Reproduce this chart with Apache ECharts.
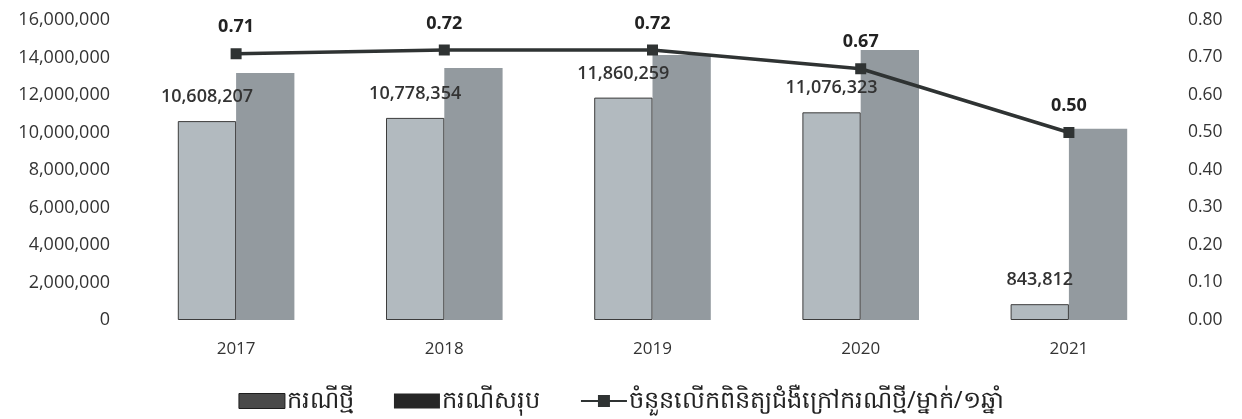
<!DOCTYPE html>
<html>
<head>
<meta charset="utf-8">
<script src="https://cdn.jsdelivr.net/npm/echarts@6/dist/echarts.min.js"></script>
<style>
html,body{margin:0;padding:0;background:#fff;}
#chart{width:1242px;height:419px;}
</style>
</head>
<body>
<div id="chart"></div>
<script>
const years = ['2017', '2018', '2019', '2020', '2021'];
const newCases = [10608207, 10778354, 11860259, 11076323, 843812];
const totalCases = [13170000, 13440000, 14130000, 14400000, 10200000];
const visitsPerPerson = [0.71, 0.72, 0.72, 0.67, 0.50];
const seriesNames = ['ករណីថ្មី', 'ករណីសរុប', 'ចំនួនលើកពិនិត្យជំងឺក្រៅករណីថ្មី/ម្នាក់/១ឆ្នាំ'];

const font = '"Open Sans", Lato, sans-serif';
const chart = echarts.init(document.getElementById('chart'));
chart.setOption({
  backgroundColor: '#fff',
  animation: false,
  textStyle: { fontFamily: font },
  grid: { left: 132, right: 69, top: 20, bottom: 99 },
  legend: {
    bottom: 1,
    left: 'center',
    itemGap: 40,
    itemWidth: 46,
    itemHeight: 15,
    textStyle: { fontSize: 24, color: '#222', padding: [0, 0, 0, -3] },
    data: [
      { name: seriesNames[0], icon: 'rect', itemStyle: { color: '#4a4a4a', borderColor: '#1e1e1e', borderWidth: 1 } },
      { name: seriesNames[1], icon: 'rect', itemStyle: { color: '#262626' } },
      { name: seriesNames[2] }
    ]
  },
  xAxis: {
    type: 'category',
    data: years,
    axisLine: { show: false },
    axisTick: { show: false },
    axisLabel: { fontSize: 17, color: '#333', margin: 21, fontFamily: font }
  },
  yAxis: [
    {
      type: 'value', min: 0, max: 16000000, interval: 2000000,
      splitLine: { show: false },
      axisLine: { show: false }, axisTick: { show: false },
      axisLabel: {
        fontSize: 18, color: '#333', margin: 22, fontFamily: font,
        formatter: v => v.toLocaleString('en-US')
      }
    },
    {
      type: 'value', min: 0, max: 0.8, interval: 0.1,
      splitLine: { show: false },
      axisLine: { show: false }, axisTick: { show: false },
      axisLabel: {
        fontSize: 17.5, color: '#333', margin: 15, fontFamily: font,
        formatter: v => v.toFixed(2)
      }
    }
  ],
  series: [
    {
      name: seriesNames[0],
      type: 'bar',
      data: newCases,
      barWidth: '28%',
      barGap: '0%',
      itemStyle: { color: '#b2babf', borderColor: '#3c3c3c', borderWidth: 1 },
      label: {
        show: true, position: 'top', distance: 15,
        fontSize: 18, color: '#333', fontWeight: 600, fontFamily: font,
        formatter: p => p.value.toLocaleString('en-US')
      },
      z: 3
    },
    {
      name: seriesNames[1],
      type: 'bar',
      data: totalCases,
      barWidth: '28%',
      itemStyle: { color: '#939a9f' },
      z: 2
    },
    {
      name: seriesNames[2],
      type: 'line',
      yAxisIndex: 1,
      data: visitsPerPerson,
      symbol: 'rect',
      symbolSize: 11,
      lineStyle: { color: '#2f3333', width: 3.5 },
      itemStyle: { color: '#2f3333' },
      label: {
        show: true, position: 'top', distance: 12,
        fontSize: 18, color: '#222', fontWeight: 'bold', fontFamily: font,
        formatter: p => p.value.toFixed(2)
      },
      z: 5
    }
  ]
});
</script>
</body>
</html>
